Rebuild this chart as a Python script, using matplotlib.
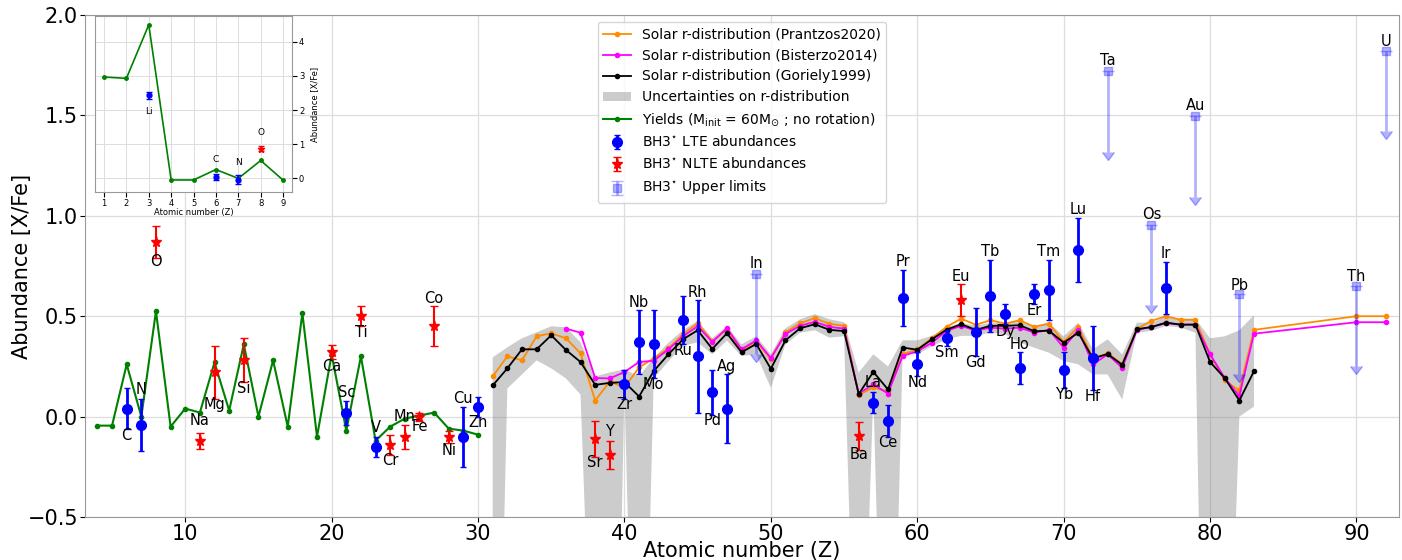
import numpy as np
import matplotlib
matplotlib.use("Agg")
import matplotlib.pyplot as plt
from matplotlib.lines import Line2D
from matplotlib.patches import Patch

# ---------------- data ----------------
# Solar r-process distributions
sol_Z = list(range(31, 84))
prantzos_Z = sol_Z + [90, 92]
prantzos = [0.20, 0.30, 0.28, 0.40, 0.415, 0.39, 0.315, 0.08, 0.175, 0.145,
            0.245, 0.29, 0.34, 0.41, 0.465, 0.375, 0.435, 0.33, 0.375, 0.285,
            0.42, 0.465, 0.49, 0.462, 0.452, 0.108, 0.145, 0.125, 0.31, 0.335,
            0.39, 0.447, 0.488, 0.457, 0.48, 0.463, 0.48, 0.447, 0.463, 0.372,
            0.447, 0.29, 0.315, 0.262, 0.437, 0.477, 0.50, 0.482, 0.482, 0.31,
            0.18, 0.13, 0.432, 0.50, 0.50]
bisterzo_Z = list(range(36, 84)) + [90, 92]
bisterzo = [0.438, 0.418, 0.192, 0.19, 0.222, 0.272, 0.278, 0.335, 0.40, 0.45,
            0.372, 0.44, 0.335, 0.38, 0.292, 0.412, 0.452, 0.472, 0.447, 0.438,
            0.115, 0.16, 0.115, 0.302, 0.325, 0.368, 0.427, 0.452, 0.428, 0.443,
            0.438, 0.443, 0.418, 0.432, 0.343, 0.432, 0.26, 0.31, 0.243, 0.432,
            0.447, 0.465, 0.458, 0.458, 0.31, 0.193, 0.103, 0.413, 0.47, 0.47]
goriely_Z = sol_Z
goriely = [0.155, 0.24, 0.335, 0.335, 0.405, 0.332, 0.272, 0.158, 0.168, 0.172,
           0.10, 0.227, 0.31, 0.385, 0.43, 0.337, 0.415, 0.32, 0.362, 0.238,
           0.38, 0.44, 0.46, 0.432, 0.426, 0.112, 0.223, 0.135, 0.344, 0.333,
           0.385, 0.433, 0.46, 0.432, 0.452, 0.452, 0.455, 0.425, 0.428, 0.368,
           0.418, 0.289, 0.312, 0.258, 0.435, 0.446, 0.468, 0.458, 0.458, 0.272,
           0.192, 0.08, 0.226]
band_hi = [0.295, 0.345, 0.39, 0.42, 0.45, 0.445, 0.37, 0.20, 0.22, 0.235,
           0.20, 0.293, 0.368, 0.43, 0.477, 0.39, 0.45, 0.36, 0.40, 0.31,
           0.44, 0.485, 0.51, 0.485, 0.47, 0.22, 0.31, 0.25, 0.38, 0.38,
           0.402, 0.443, 0.468, 0.452, 0.468, 0.468, 0.477, 0.452, 0.468, 0.40,
           0.468, 0.335, 0.385, 0.31, 0.468, 0.468, 0.498, 0.488, 0.488, 0.39,
           0.40, 0.43, 0.505]
band_lo = [-3.0, 0.14, 0.21, 0.28, 0.24, 0.19, 0.11, -1.9, -3.4, 0.14,
           -2.7, 0.19, 0.275, 0.352, 0.37, 0.31, 0.378, 0.302, 0.31, 0.143,
           0.36, 0.418, 0.43, 0.393, 0.40, -2.1, 0.12, -2.6, 0.32, 0.31,
           0.35, 0.385, 0.402, 0.402, 0.418, 0.41, 0.368, 0.343, 0.318, 0.277,
           0.26, 0.21, 0.21, 0.085, 0.418, 0.427, 0.452, 0.443, 0.418, -3.6,
           -2.2, 0.0, 0.05]

# Yields (M_init = 60 Msun, no rotation), Z = 1..30
yield_Z = list(range(1, 31))
yields = [2.97, 2.93, 4.5, -0.045, -0.045, 0.26, 0.0, 0.525, -0.05, 0.04,
          0.02, 0.27, 0.03, 0.36, 0.0, 0.28, -0.05, 0.515, -0.10, 0.31,
          -0.07, 0.30, -0.12, -0.05, -0.01, 0.005, 0.02, -0.06, -0.07, -0.09]

# BH3* LTE abundances
lte_el = ["Li", "C", "N", "Sc", "V", "Cu", "Zn", "Zr", "Nb", "Mo", "Ru", "Rh",
          "Pd", "Ag", "La", "Ce", "Pr", "Nd", "Sm", "Gd", "Tb", "Dy", "Ho",
          "Er", "Tm", "Yb", "Lu", "Hf", "Ir"]
lte_Z = [3, 6, 7, 21, 23, 29, 30, 40, 41, 42, 44, 45, 46, 47, 57, 58, 59, 60,
         62, 64, 65, 66, 67, 68, 69, 70, 71, 72, 77]
lte_val = [2.44, 0.04, -0.04, 0.02, -0.15, -0.10, 0.05, 0.16, 0.37, 0.36, 0.48,
           0.30, 0.12, 0.04, 0.07, -0.02, 0.59, 0.26, 0.39, 0.42, 0.60, 0.51,
           0.24, 0.61, 0.63, 0.23, 0.83, 0.29, 0.64]
lte_err = [0.10, 0.10, 0.13, 0.06, 0.05, 0.15, 0.05, 0.07, 0.16, 0.17, 0.12,
           0.28, 0.11, 0.17, 0.05, 0.08, 0.14, 0.06, 0.04, 0.12, 0.18, 0.05,
           0.08, 0.05, 0.15, 0.09, 0.16, 0.16, 0.13]

# BH3* NLTE abundances
nlte_el = ["O", "Na", "Mg", "Si", "Ca", "Ti", "Cr", "Mn", "Fe", "Co", "Ni",
           "Sr", "Y", "Ba", "Eu"]
nlte_Z = [8, 11, 12, 14, 20, 22, 24, 25, 26, 27, 28, 38, 39, 56, 63]
nlte_val = [0.87, -0.12, 0.22, 0.28, 0.32, 0.50, -0.14, -0.10, 0.0, 0.45,
            -0.10, -0.11, -0.19, -0.095, 0.58]
nlte_err = [0.08, 0.04, 0.13, 0.11, 0.035, 0.05, 0.05, 0.06, 0.02, 0.10,
            0.03, 0.09, 0.07, 0.07, 0.08]

# BH3* upper limits
ul_el = ["In", "Ta", "Os", "Au", "Pb", "Th", "U"]
ul_Z = [49, 73, 76, 79, 82, 90, 92]
ul_val = [0.71, 1.72, 0.955, 1.495, 0.61, 0.65, 1.82]
ul_err = [0.4, 0.4, 0.4, 0.4, 0.4, 0.4, 0.4]

# label offsets (layout only)
lte_dy = [-0.47, -0.135, 0.175, 0.10, 0.095, 0.19, -0.08, -0.10, 0.20, -0.20,
          -0.15, 0.32, -0.14, 0.21, 0.10, -0.11, 0.18, -0.09, -0.07, -0.15,
          0.22, -0.085, 0.12, -0.08, 0.19, -0.12, 0.20, -0.19, 0.17]
nlte_dy = [-0.10, 0.10, -0.16, -0.14, -0.07, -0.08, -0.08, 0.10, -0.05, 0.14,
           -0.07, -0.12, 0.115, -0.095, 0.12]
ul_dy = [0.05, 0.055, 0.05, 0.055, 0.045, 0.05, 0.05]
inset_dy = {"Li": -0.47, "C": 0.5, "N": 0.5, "O": 0.47}

# ---------------- figure ----------------
fig = plt.figure(figsize=(14.02, 5.6), dpi=100)
ax = fig.add_axes([0.0606, 0.0768, 0.9372, 0.8964])

ax.grid(True, color="#dddddd", linewidth=0.9, zorder=0)
ax.set_axisbelow(True)

ax.fill_between(goriely_Z, band_lo, band_hi, color="0.5", alpha=0.4,
                linewidth=0, zorder=1)
ax.plot(prantzos_Z, prantzos, "-o", color="darkorange", ms=3, lw=1.3, zorder=3)
ax.plot(bisterzo_Z, bisterzo, "-o", color="magenta", ms=3, lw=1.3, zorder=3)
ax.plot(goriely_Z, goriely, "-o", color="black", ms=3, lw=1.3, zorder=3)

yz = np.array(yield_Z)
yv = np.array(yields)
m = yz >= 4
ax.plot(yz[m], yv[m], "-o", color="green", ms=3, lw=1.5, zorder=3)

lz = np.array(lte_Z)
lv = np.array(lte_val)
le = np.array(lte_err)
mm = lz >= 4
ax.errorbar(lz[mm], lv[mm], yerr=le[mm], fmt="o", color="blue", ms=7,
            capsize=2.5, elinewidth=2, zorder=4)
ax.errorbar(nlte_Z, nlte_val, yerr=nlte_err, fmt="*", color="red", ms=8,
            capsize=3, elinewidth=1.5, zorder=4)
ax.errorbar(ul_Z, ul_val, yerr=ul_err, uplims=True, fmt="s", color="blue",
            alpha=0.3, ms=6, capsize=4, elinewidth=2, zorder=4)

for z, v, d, n in zip(lte_Z, lte_val, lte_dy, lte_el):
    if z >= 4:
        ax.text(z, v + d, n, ha="center", va="center", fontsize=10.5, zorder=5)
for z, v, d, n in zip(nlte_Z, nlte_val, nlte_dy, nlte_el):
    ax.text(z, v + d, n, ha="center", va="center", fontsize=10.5, zorder=5)
for z, v, d, n in zip(ul_Z, ul_val, ul_dy, ul_el):
    ax.text(z, v + d, n, ha="center", va="center", fontsize=10.5, zorder=5)

ax.set_xlim(3.15, 92.9)
ax.set_ylim(-0.5, 2.0)
ax.set_xticks(range(10, 91, 10))
ax.set_yticks(np.arange(-0.5, 2.01, 0.5))
ax.tick_params(labelsize=15, pad=1.5)
ax.set_xlabel("Atomic number (Z)", fontsize=15, labelpad=-2)
ax.set_ylabel("Abundance [X/Fe]", fontsize=15, labelpad=-3)
for s in ax.spines.values():
    s.set_color("0.6")

handles = [
    Line2D([], [], color="darkorange", marker="o", ms=3, lw=1.3),
    Line2D([], [], color="magenta", marker="o", ms=3, lw=1.3),
    Line2D([], [], color="black", marker="o", ms=3, lw=1.3),
    Patch(facecolor="0.5", alpha=0.4, linewidth=0),
    Line2D([], [], color="green", marker="o", ms=3, lw=1.5),
    ax.containers[0], ax.containers[1], ax.containers[2],
]
labels = [
    "Solar r-distribution (Prantzos2020)",
    "Solar r-distribution (Bisterzo2014)",
    "Solar r-distribution (Goriely1999)",
    "Uncertainties on r-distribution",
    r"Yields (M$_{\rm init}$ = 60M$_{\odot}$ ; no rotation)",
    r"BH3$^{\star}$ LTE abundances",
    r"BH3$^{\star}$ NLTE abundances",
    r"BH3$^{\star}$ Upper limits",
]
ax.legend(handles, labels, loc="upper center", fontsize=10, framealpha=0.8)

# ---------------- inset ----------------
axin = fig.add_axes([0.0678, 0.657, 0.1405, 0.314])
axin.grid(True, color="#dddddd", linewidth=0.7)
axin.set_axisbelow(True)
mi = yz <= 9
axin.plot(yz[mi], yv[mi], "-o", color="green", ms=2.5, lw=1.2)
ml = lz <= 9
axin.errorbar(lz[ml], lv[ml], yerr=le[ml], fmt="o", color="blue", ms=3.5,
              capsize=2, elinewidth=1.2)
nz = np.array(nlte_Z)
nv = np.array(nlte_val)
ne = np.array(nlte_err)
mn = nz <= 9
axin.errorbar(nz[mn], nv[mn], yerr=ne[mn], fmt="*", color="red", ms=4.5,
              capsize=2, elinewidth=1.2)
for z, v, n in zip(list(lz[ml]) + list(nz[mn]), list(lv[ml]) + list(nv[mn]),
                   [e for z_, e in zip(lte_Z, lte_el) if z_ <= 9]
                   + [e for z_, e in zip(nlte_Z, nlte_el) if z_ <= 9]):
    axin.text(z, v + inset_dy[n], n, ha="center", va="center", fontsize=6.5)
axin.set_xlim(0.6, 9.4)
axin.set_ylim(-0.4, 4.75)
axin.set_xticks(range(1, 10))
axin.set_yticks(range(0, 5))
axin.yaxis.tick_right()
axin.yaxis.set_label_position("right")
axin.tick_params(labelsize=6, pad=1.5)
axin.set_xlabel("Atomic number (Z)", fontsize=6, labelpad=0)
axin.set_ylabel("Abundance [X/Fe]", fontsize=6)
for s in axin.spines.values():
    s.set_color("0.6")

fig.savefig("out.png", dpi=100)
